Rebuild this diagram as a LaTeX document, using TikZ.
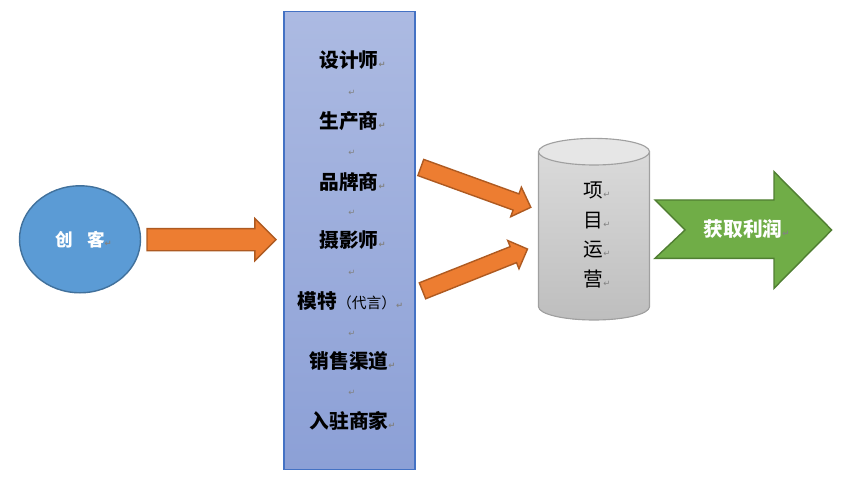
\documentclass[tikz,border=0pt]{standalone}
\usepackage{fontspec}
\setmainfont{Noto Sans CJK SC}
\newfontfamily\markfont{DejaVu Sans}
\usepackage{tikz}
\usetikzlibrary{shapes.geometric, shapes.arrows}
\usepackage{xcolor}

\definecolor{creatorblue}{HTML}{5B9BD5}
\definecolor{creatorline}{HTML}{41719C}
\definecolor{pushorange}{HTML}{ED7D31}
\definecolor{pushline}{HTML}{AE5A21}
\definecolor{teamtop}{RGB}{172,186,226}
\definecolor{teambottom}{RGB}{140,160,214}
\definecolor{teamline}{HTML}{4472C4}
\definecolor{opstop}{RGB}{218,218,218}
\definecolor{opsbottom}{RGB}{190,190,190}
\definecolor{opscap}{RGB}{230,230,230}
\definecolor{opsline}{RGB}{160,160,160}
\definecolor{profitgreen}{HTML}{70AD47}
\definecolor{profitline}{HTML}{507E32}
\definecolor{markgray}{RGB}{130,130,130}

\newcommand{\pxu}{0.025cm}
\newcommand{\pmark}{{\markfont\fontsize{6}{6}\selectfont\color{markgray}↵}}

\begin{document}
\begin{tikzpicture}[
    x=0.025cm, y=-0.025cm,
    creator/.style = {ellipse, draw=creatorline, fill=creatorblue, line width=1pt, inner sep=0pt,
        minimum width=121*\pxu, minimum height=107*\pxu, text=white, font=\fontsize{12.5}{14}\selectfont\bfseries},
    push/.style = {single arrow, draw=pushline, fill=pushorange, line width=1pt, inner xsep=0pt, outer sep=0pt,
        text height=0pt, text depth=0pt, single arrow tip angle=90, single arrow head indent=0pt, anchor=tail},
    team/.style = {rectangle, draw=teamline, line width=0.8pt, top color=teamtop, bottom color=teambottom,
        minimum width=131*\pxu, minimum height=458*\pxu},
    member/.style = {inner sep=0pt, font=\fontsize{14}{16}\selectfont\bfseries},
    gap/.style = {inner sep=0pt},
    ops/.style = {align=center, inner sep=0pt, font=\fontsize{14}{21.3}\selectfont},
    profit/.style = {inner sep=0pt, text=white, font=\fontsize{14}{16}\selectfont\bfseries}
]
\useasboundingbox (0,0) rectangle (856,491);

% Creator
\node (creator) [creator] at (80,239.3) {创\hspace{0.8em}客\rlap{\pmark}};

% Arrow to the team
\node (push1) [push, minimum height=129*\pxu, inner ysep=10.35*\pxu, single arrow head extend=10*\pxu] at (147,239.7) {};

% Team
\node (team) [team] at (349.5,240.8) {};
\node (designer) [member] at (349,60) {设计师\rlap{\pmark}};
\node (gap1) [gap] at (352,92.7) {\pmark};
\node (maker) [member] at (349,121.5) {生产商\rlap{\pmark}};
\node (gap2) [gap] at (352,153.3) {\pmark};
\node (brand) [member] at (349,181.5) {品牌商\rlap{\pmark}};
\node (gap3) [gap] at (352,213.3) {\pmark};
\node (photo) [member] at (349,240.5) {摄影师\rlap{\pmark}};
\node (gap4) [gap] at (352,273.3) {\pmark};
\node (model) [member] at (347,301.5) {模特{\fontsize{10.5}{12}\selectfont\mdseries（代言）}\rlap{\pmark}};
\node (gap5) [gap] at (352,334) {\pmark};
\node (channel) [member] at (349,361.5) {销售渠道\rlap{\pmark}};
\node (gap6) [gap] at (352,393.3) {\pmark};
\node (merchant) [member] at (349,420.5) {入驻商家\rlap{\pmark}};

% Arrows to operations
\node (push2) [push, rotate=-19.9, minimum height=117*\pxu, inner ysep=7.9*\pxu, single arrow head extend=7.1*\pxu] at (420.8,167.5) {};
\node (push3) [push, rotate=21.7, minimum height=113*\pxu, inner ysep=7.9*\pxu, single arrow head extend=6.6*\pxu] at (422.5,290.8) {};

% Operations cylinder
\fill [top color=opstop, bottom color=opsbottom] (538.5,151.7) -- (538.5,306.7)
    arc [start angle=180, end angle=0, x radius=55.5, y radius=13.3] -- (649.5,151.7) -- cycle;
\draw [opsline, line width=0.8pt] (538.5,151.7) -- (538.5,306.7)
    arc [start angle=180, end angle=0, x radius=55.5, y radius=13.3] -- (649.5,151.7);
\draw [opsline, fill=opscap, line width=0.8pt] (594,151.7) ellipse [x radius=55.5, y radius=13.3];
\node (ops) [ops] at (593.5,235) {项\rlap{\pmark}\\目\rlap{\pmark}\\运\rlap{\pmark}\\营\rlap{\pmark}};

% Profit arrow
\draw [draw=profitline, fill=profitgreen, line width=1pt] (655,200) -- (774,200) -- (774,171.7) -- (831.7,230)
    -- (774,288.3) -- (774,258.3) -- (655,258.3) -- (685,230) -- cycle;
\node (profit) [profit] at (743,229) {获取利润\rlap{\pmark}};

\end{tikzpicture}
\end{document}
